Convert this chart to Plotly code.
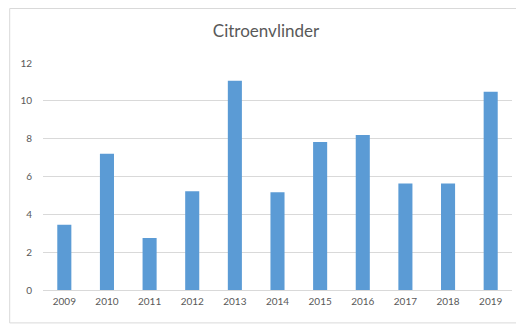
import plotly.graph_objs as go

years = ['2009', '2010', '2011', '2012', '2013', '2014', '2015', '2016', '2017', '2018', '2019']
values = [3.45, 7.2, 2.75, 5.22, 11.06, 5.17, 7.83, 8.2, 5.63, 5.63, 10.48]
y_ticks = [0, 2, 4, 6, 8, 10, 12]

fig = go.Figure()
fig.add_trace(go.Bar(x=years, y=values, marker_color='#5b9bd5', marker_line_width=0))

# page body has an 8px margin, so the figure is sized/shifted to compensate
fig.update_layout(
    title=dict(text='Citroenvlinder', x=0.5, xanchor='center', y=0.927, yanchor='middle',
               font=dict(family='Lato', size=17, color='#595959')),
    width=516, height=317,
    margin=dict(l=35, r=12, t=55, b=35),
    paper_bgcolor='white', plot_bgcolor='white',
    bargap=0.67,
    showlegend=False,
    font=dict(family='Lato', size=10, color='#595959'),
)
fig.update_xaxes(showgrid=False, showline=False, ticks='', ticklabelstandoff=4)
fig.update_yaxes(range=[0, 12], tickvals=y_ticks, showgrid=True, gridcolor='#d9d9d9',
                 gridwidth=1, zeroline=True, zerolinecolor='#d9d9d9', zerolinewidth=1,
                 ticks='', ticklabelstandoff=10)

# chart area border
fig.add_shape(type='rect', xref='paper', yref='paper', x0=-0.071, x1=1.0235, y0=-0.145, y1=1.24,
              line=dict(color='#d9d9d9', width=1), fillcolor='rgba(0,0,0,0)', layer='below')

fig.write_html("out.html")
